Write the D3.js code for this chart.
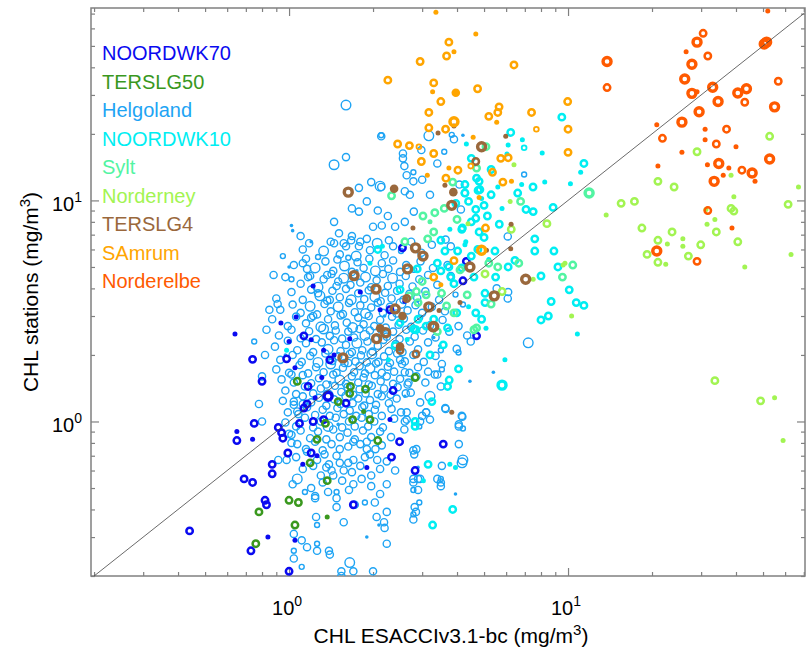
<!DOCTYPE html>
<html lang="en">
<head>
<meta charset="UTF-8">
<title>CHL stations vs ESACCIv3.1-bc</title>
<script src="https://cdn.jsdelivr.net/npm/d3@7"></script>
<style>
  body { margin: 0; background: #fff; }
  text { font-family: "Liberation Sans", Arial, Helvetica, sans-serif; }
</style>
</head>
<body>
<script>
// stations, in legend order, and their colours
var stations = ['NOORDWK70', 'TERSLG50', 'Helgoland', 'NOORDWK10', 'Sylt', 'Norderney', 'TERSLG4', 'SAmrum', 'Norderelbe'];
var colors = ['#0a0af0', '#3a981e', '#1ea4f4', '#00eef2', '#52f4a2', '#a2f452', '#9a683c', '#ffa500', '#ff5a00'];

// each point: [CHL ESACCI, CHL station, sample class]
var noordwk70 = [
[0.64,2.49,0],[0.935,2.79,0],[0.74,1.91,2],[0.8,1.52,2],[1.0,2.3,0],[1.13,2.44,2],[1.2,2.34,0],[0.98,1.92,2],[1.33,2.1,0],[1.38,1.3,3],
[1.33,1.02,2],[1.13,1.15,2],[1.22,1.0,2],[1.09,0.98,2],[0.75,0.98,2],[0.915,0.94,2],[0.94,0.89,2],[0.95,0.84,2],[0.65,0.9,0],[0.65,0.82,2],
[0.74,0.83,0],[0.99,0.72,2],[1.2,0.72,2],[1.26,0.7,0],[1.12,0.64,0],[0.87,0.64,2],[0.87,0.58,2],[0.69,0.55,2],[0.74,0.53,2],[0.82,0.44,2],
[0.83,0.42,2],[0.44,0.32,2],[0.84,0.3,0],[0.73,0.26,2],[1.0,0.21,2],[1.05,0.29,0],[1.7,0.42,2],[2.33,0.69,2],[2.49,0.81,2],[2.83,0.6,2],
[3.57,0.79,2],[2.3,1.02,0],[2.36,1.38,2],[1.17,1.44,2],[1.31,1.58,0],[1.4,1.9,2],[1.05,1.75,0],[1.24,1.28,0],[1.16,1.2,2],[4.7,2.44,2],
[2.55,6.1,2],[4.32,5.3,2],[4.2,4.33,2],[1.22,4.1,0],[2.3,3.2,2],[1.8,3.85,0],[1.06,2.97,0],[1.65,2.37,0],[2.12,3.2,0],[1.6,1.21,2],
[1.9,0.62,0],[2.6,3.5,0],[1.45,2.0,0]
];
var terslg50 = [
[1.07,1.52,2],[1.5,1.23,2],[1.65,1.34,2],[1.66,1.44,2],[1.85,1.11,0],[1.95,1.02,2],[1.69,1.02,2],[1.35,0.98,2],[1.26,0.83,2],[1.19,0.65,2],
[1.37,0.54,2],[1.0,0.44,2],[1.08,0.43,2],[0.78,0.39,2],[1.05,0.34,2],[1.37,0.37,0],[0.76,0.28,2],[2.08,0.82,2],[2.83,1.58,2],[1.88,1.4,2]
];
var helgoland = [
// upper fringe
[1.6,27,3],[2.14,19.7,1],[1.45,14.5,3],[1.6,15.7,2],[1.97,12.1,2],[2.14,11.5,2],[1.78,11.4,2],[1.9,9.9,2],[1.68,9.2,2],[1.78,8.9,2],
[2.08,9.0,2],[1.02,7.7,0],[1.1,6.9,2],[1.12,6.0,2],[1.45,8.0,2],[1.51,7.1,2],[1.45,6.4,2],[1.57,6.4,2],[1.68,6.9,2],[1.78,6.2,2],
[1.9,6.7,2],[2.0,7.6,2],[2.15,7.7,2],[2.26,8.5,2],[2.4,7.6,2],[2.6,8.0,2],[2.8,8.9,2],[1.0,5.0,0],[1.12,5.2,2],[1.16,4.9,2],
[1.17,4.5,2],[1.02,4.4,1],[0.91,3.4,2],[1.27,3.8,2],[1.37,4.6,2],[1.5,4.3,2],[1.4,3.55,2],[1.2,2.95,2],
[2.14,19.5,2],[3.17,19.6,3],[3.83,19.8,1],[3.9,18.9,2],[4.2,19.7,0],[2.56,16.3,2],[2.56,15.5,2],[2.98,16.9,2],[3.6,16.6,1],[3.4,14.7,2],
[2.59,14.3,2],[2.79,13.4,1],[2.64,13,2],[2.79,12.2,2],[3.0,12.4,2],[3.2,10.6,2],[4.08,11.8,2],[4.27,10.8,2],[2.12,11.6,3],[4.13,9.1,2],
[2.71,10.6,2],[2.6,11.0,2],[6.96,13.1,1],[6.08,6.87,2],[3.64,6.65,2],[3.8,6.2,2],[3.8,4.55,2],[3.7,5.1,2],[6.08,3.6,2],[5.55,4.0,2],[6.1,3.85,2],
// right fringe
[7.2,2.27,3],[5.4,1.67,0],[4.45,1.52,0],[3.99,2.13,2],[4.05,2.05,1],[3.47,2.2,0],[3.53,1.82,2],[3.53,1.72,1],[3.33,1.63,2],[3.5,1.44,2],
[3.64,1.14,2],[4.16,1.06,2],[4.06,0.95,2],[4.2,0.93,1],[4.06,0.79,2],[4.17,0.65,3],[3.53,0.63,2],[3.5,0.55,1],[3.5,0.51,2],[2.81,0.71,2],
[2.86,0.75,2],[2.79,0.53,2],[2.95,0.55,2],[2.79,0.49,1],[2.93,0.43,1],[2.79,0.38,1],[2.79,0.36,2],[4.48,2.3,2],[2.5,1.9,2],[2.6,1.67,2],
[2.68,1.5,2],[2.95,1.22,2],[2.73,1.35,2],[3.2,1.3,3],[3.1,1.1,2],[3.2,1.02,2],[2.64,1.02,2],
// lower fringe
[1.02,1.63,2],[1.04,1.23,2],[1.12,1.2,2],[1.07,1.11,2],[1.0,0.88,2],[1.02,0.8,2],[0.98,0.67,2],[0.915,0.67,2],[1.07,0.55,3],[1.03,0.52,2],
[1.14,0.48,1],[1.24,0.46,2],[1.25,0.37,2],[1.26,0.34,1],[1.48,0.41,2],[1.57,0.35,2],[1.04,0.31,2],[1.11,0.29,2],[1.16,0.27,2],[1.26,0.26,2],
[1.26,0.28,1],[1.39,0.26,2],[1.4,0.25,2],[1.04,0.26,1],[1.04,0.24,2],[1.11,0.22,1],[1.54,0.21,2],[1.54,0.2,2],[1.65,0.23,3],[1.7,0.21,2],
[2.0,0.21,2],[2.24,0.28,2],[2.19,0.35,2],[2.2,0.33,2],[2.06,0.37,2],[2.24,0.39,2],[2.03,0.43,2],[1.87,0.43,1],[1.72,0.42,2],[1.48,0.45,2],
[1.7,0.52,2],[1.82,0.55,2],[1.55,0.54,2],[1.48,0.48,1],[1.38,0.48,2],[1.24,0.45,2],
[1.7,0.81,2],[1.8,0.79,2],[1.9,0.75,2],[1.63,0.77,2],[1.7,0.67,2],[1.63,0.65,2],[1.52,0.65,2],[1.48,0.7,2],[1.39,0.64,2],[1.36,0.62,2],
[1.42,0.6,2],[1.57,0.6,2],[1.44,0.57,2],[1.95,0.71,2],[2.15,0.78,2],[2.24,0.66,2],[2.24,0.52,2],[2.4,0.6,2],[2.59,0.92,2],[2.6,1.0,2],
[2.64,1.1,2],[2.79,0.74,2],[2.79,0.55,2],[2.9,0.55,2],[2.9,0.49,2],[2.82,0.41,2],[2.85,0.39,2],[3.5,0.53,2],[3.4,0.55,2],[4.2,0.67,3],
[4.18,1.05,2],[4.06,0.97,2],[3.4,1.63,2],[3.63,1.15,2],[3.0,1.06,2],[2.95,1.0,2],[3.1,1.1,2],[2.93,0.95,1],
// core
[1.18,6.4,2],[1.33,5.9,3],[1.41,6.5,2],[1.52,5.7,2],[1.6,6.2,2],[1.74,5.6,3],[1.8,6.5,2],[1.95,5.95,2],[2.07,6.4,3],[2.2,5.65,2],
[2.36,6.2,2],[2.52,5.9,1],[2.74,6.5,2],[2.98,5.8,2],[3.25,6.3,2],[1.27,5.55,1],[2.28,6.6,2],[1.67,6.6,2],
[1.04,5.1,2],[1.15,5.45,2],[1.24,4.95,3],[1.35,5.3,2],[1.44,4.8,2],[1.49,5.4,2],[1.58,5.05,3],[1.68,4.75,2],[1.76,5.25,2],[1.85,4.95,2],
[1.94,5.45,2],[2.04,4.8,3],[2.15,5.2,2],[2.27,4.9,2],[2.36,5.35,2],[2.5,4.75,2],[2.63,5.1,2],[2.81,4.85,1],[2.96,5.3,2],[3.28,4.95,2],[1.63,5.5,1],
[0.97,4.5,2],[1.1,4.2,2],[1.19,4.55,2],[1.27,4.05,3],[1.33,4.4,2],[1.42,4.65,2],[1.48,4.1,2],[1.57,4.45,3],[1.66,4.15,2],[1.71,4.62,2],
[1.8,4.25,2],[1.88,4.5,3],[1.97,4.05,2],[2.06,4.35,2],[2.17,4.65,2],[2.26,4.1,2],[2.35,4.45,3],[2.49,4.2,2],[2.62,4.55,2],[2.77,4.08,2],
[2.93,4.4,2],[3.15,4.6,2],[3.4,4.15,2],[3.8,4.5,1],
[0.9,3.6,2],[1.02,3.85,2],[1.12,3.55,2],[1.2,3.95,2],[1.29,3.7,3],[1.37,3.52,2],[1.43,3.9,2],[1.52,3.65,2],[1.6,3.98,2],[1.67,3.55,3],
[1.77,3.8,2],[1.86,3.58,2],[1.93,3.92,2],[2.03,3.66,3],[2.13,3.5,2],[2.21,3.82,2],[2.33,3.6,2],[2.44,3.9,2],[2.57,3.55,2],[2.7,3.78,2],
[2.88,3.62,2],[3.08,3.88,2],[3.45,3.55,2],[3.95,3.75,1],
[0.93,3.2,2],[1.03,3.38,2],[1.1,3.1,2],[1.19,3.32,3],[1.26,3.05,2],[1.34,3.4,2],[1.41,3.15,2],[1.5,3.3,3],[1.56,3.06,2],[1.64,3.44,2],
[1.72,3.12,2],[1.8,3.35,2],[1.88,3.08,3],[1.97,3.28,2],[2.08,3.45,2],[2.17,3.1,2],[2.3,3.3,2],[2.43,3.08,2],[2.52,3.42,3],[2.66,3.18,2],
[2.84,3.36,2],[3.0,3.1,2],[3.25,3.3,2],[3.62,3.15,2],[4.2,3.38,1],
[0.87,2.9,2],[0.99,2.7,2],[1.06,2.98,2],[1.15,2.78,2],[1.22,3.0,2],[1.3,2.68,3],[1.38,2.9,2],[1.46,2.72,2],[1.53,3.02,2],[1.61,2.8,2],
[1.69,2.66,3],[1.77,2.95,2],[1.85,2.75,2],[1.93,3.0,2],[2.02,2.7,2],[2.12,2.88,2],[2.22,2.66,2],[2.34,2.98,2],[2.47,2.74,2],[2.58,2.92,2],
[2.74,2.68,2],[2.95,2.95,1],[3.2,2.72,2],[3.55,2.88,2],[4.05,2.7,2],
[0.92,2.45,2],[1.02,2.6,2],[1.1,2.38,2],[1.18,2.56,2],[1.25,2.36,2],[1.33,2.62,3],[1.4,2.44,2],[1.47,2.58,2],[1.55,2.37,2],[1.63,2.55,2],
[1.71,2.4,2],[1.79,2.62,2],[1.87,2.45,3],[1.95,2.58,2],[2.04,2.36,2],[2.14,2.6,2],[2.24,2.42,2],[2.36,2.55,2],[2.49,2.36,2],[2.63,2.6,2],
[2.82,2.42,2],[3.02,2.58,2],[3.35,2.4,2],[3.75,2.55,2],[4.35,2.45,2],
[0.89,2.18,2],[0.99,2.32,2],[1.07,2.1,2],[1.15,2.26,2],[1.22,2.06,2],[1.31,2.28,2],[1.38,2.12,3],[1.45,2.33,2],[1.53,2.08,2],[1.6,2.22,2],
[1.68,2.06,2],[1.75,2.26,3],[1.83,2.1,2],[1.91,2.3,2],[1.99,2.07,2],[2.08,2.2,2],[2.18,2.34,2],[2.28,2.08,2],[2.41,2.24,2],[2.55,2.06,2],
[2.71,2.3,2],[2.9,2.12,2],[3.15,2.28,2],[3.5,2.1,1],
[0.93,1.9,2],[1.03,2.0,2],[1.11,1.86,2],[1.19,1.98,2],[1.27,1.85,3],[1.35,2.03,2],[1.43,1.88,2],[1.5,1.97,2],[1.58,1.84,2],[1.65,2.02,2],
[1.73,1.87,2],[1.81,1.99,2],[1.9,1.85,2],[1.98,2.02,3],[2.09,1.86,2],[2.19,1.97,2],[2.3,1.84,2],[2.44,2.03,2],[2.6,1.87,2],[2.79,2.0,2],
[3.04,1.86,2],[3.35,1.98,2],
[0.9,1.72,2],[1.0,1.66,2],[1.09,1.8,2],[1.17,1.65,2],[1.25,1.76,2],[1.33,1.67,2],[1.41,1.82,3],[1.48,1.66,2],[1.56,1.75,2],[1.63,1.84,2],
[1.71,1.67,2],[1.79,1.78,2],[1.87,1.65,2],[1.95,1.74,3],[2.05,1.83,2],[2.15,1.66,2],[2.26,1.77,2],[2.38,1.68,2],[2.54,1.82,2],[2.7,1.66,2],
[2.9,1.76,2],[3.15,1.68,2],
[0.94,1.55,2],[1.04,1.5,2],[1.12,1.62,2],[1.2,1.49,2],[1.28,1.57,2],[1.36,1.47,2],[1.44,1.63,2],[1.52,1.54,3],[1.6,1.48,2],[1.68,1.6,2],
[1.77,1.5,2],[1.85,1.58,2],[1.93,1.47,2],[2.03,1.62,2],[2.13,1.52,2],[2.24,1.6,2],[2.36,1.48,2],[2.5,1.56,2],[2.66,1.47,2],[2.86,1.6,2],[3.08,1.5,2],
[0.97,1.38,2],[1.06,1.33,2],[1.14,1.44,2],[1.22,1.34,2],[1.3,1.41,2],[1.38,1.32,3],[1.46,1.45,2],[1.54,1.36,2],[1.62,1.43,2],[1.7,1.32,2],
[1.79,1.4,2],[1.88,1.34,2],[1.98,1.45,2],[2.08,1.33,2],[2.19,1.41,2],[2.31,1.32,2],[2.45,1.43,2],[2.62,1.34,2],
[0.95,1.24,2],[1.04,1.19,2],[1.12,1.3,2],[1.2,1.22,2],[1.28,1.28,2],[1.36,1.18,2],[1.45,1.26,2],[1.53,1.2,2],[1.61,1.3,3],[1.69,1.21,2],
[1.77,1.27,2],[1.86,1.18,2],[1.95,1.25,2],[2.05,1.19,2],[2.15,1.3,2],[2.28,1.21,2],[2.43,1.27,2],
[0.99,1.1,2],[1.08,1.08,2],[1.16,1.16,2],[1.24,1.07,2],[1.32,1.13,2],[1.4,1.06,2],[1.49,1.15,2],[1.57,1.08,2],[1.65,1.12,2],[1.74,1.06,2],
[1.83,1.16,2],[1.93,1.08,2],[2.03,1.13,2],[2.15,1.06,2],[2.33,1.14,2],[2.52,1.1,2],
[0.97,0.99,2],[1.06,0.95,2],[1.14,1.04,2],[1.22,0.94,2],[1.3,1.0,2],[1.38,0.95,3],[1.47,1.04,2],[1.55,0.94,2],[1.64,1.0,2],[1.72,0.95,2],
[1.82,1.04,2],[1.92,0.95,2],[2.02,1.0,2],[2.17,0.94,2],[2.38,1.03,2],
[1.02,0.87,2],[1.1,0.91,2],[1.19,0.84,2],[1.27,0.9,2],[1.36,0.83,2],[1.44,0.92,2],[1.52,0.85,2],[1.62,0.89,2],[1.72,0.83,2],[1.84,0.91,2],
[1.97,0.85,2],[2.12,0.9,2],[2.32,0.85,2],
[1.07,0.79,2],[1.15,0.75,2],[1.24,0.81,2],[1.32,0.74,2],[1.42,0.79,2],[1.52,0.75,2],[1.9,0.81,2],[2.04,0.75,2],
[1.06,0.69,2],[1.16,0.73,2],[1.26,0.67,2],[1.34,0.71,2],[1.87,0.69,2],[2.07,0.67,2],
[1.12,0.61,2],[1.22,0.63,2],[1.3,0.57,2],[1.68,0.59,2],[1.8,0.63,2],[1.97,0.57,2],[2.12,0.61,2],
[1.2,0.5,2],[1.32,0.53,2],[1.64,0.49,2],[1.97,0.51,2],[2.12,0.47,2],
// left fringe and small dots
[0.82,2.0,2],[0.8,1.6,2],[0.78,1.2,2],[0.85,3.2,2],[0.83,2.6,2],[0.88,4.6,2],[0.95,5.6,1],[0.75,2.3,1],[0.8,1.0,2],
[1.03,7.3,0],[1.2,6.5,0],[0.97,2.0,0],[1.5,0.97,0],[2.6,1.3,0],[3.3,2.4,0],[2.9,0.62,0],[1.9,0.3,0],[1.4,1.5,0],[2.2,3.0,0],
[1.75,4.8,0],[3.95,0.47,0],[2.1,0.34,0]
];
var noordwk10 = [
[9.5,23.8,2],[6.23,20.3,2],[4.32,18,0],[6.1,17.8,0],[6.86,18.8,0],[6.96,17.3,1],[8.08,16.4,0],[11.4,14.7,2],[11.1,13.4,0],[10.2,11.9,0],
[8.25,12.1,0],[7.49,11.5,2],[6.82,11.8,0],[6.04,16.2,0],[6.6,10.8,2],[4.8,12.2,2],[4.76,11.1,2],[4.9,10.2,0],[4.27,10.8,2],[5.0,9.5,2],
[5.14,8.5,2],[4.67,9.1,2],[4.67,8.3,2],[4.16,7.4,2],[4.8,7.2,2],[5.67,7.8,2],[7.07,9.1,2],[7.5,8.9,2],[8.84,9.3,2],[3.77,7.4,0],
[7.6,6.7,2],[7.6,5.9,2],[8.9,5.9,2],[9.2,5.0,2],[10.1,3.94,2],[10.7,3.45,2],[11.4,3.35,2],[8.7,3.49,2],[8.0,4.55,2],[6.45,5.35,2],
[6.1,5.0,2],[5.04,3.8,2],[4.67,3.1,2],[8.5,3.0,2],[5.47,5.9,2],[4.02,5.9,2],[3.62,5.9,2],[3.74,5.0,2],[3.4,5.2,2],[4.16,4.95,2],
[3.8,4.5,2],[4.75,6.0,2],[4.3,6.5,0],[2.08,6.0,2],[8.0,2.88,2],[10.8,2.49,0],[5.94,1.9,0],[5.8,1.46,3],[3.57,2.22,2],[3.75,1.54,2],
[3.7,1.44,2],[4.05,1.73,2],[3.2,2.0,2],[3.1,2.7,2],[2.8,2.62,2],[2.5,2.8,2],[2.9,2.9,2],[5.08,2.64,0],[3.25,1.23,2],[2.83,1.0,2],
[2.83,0.95,2],[3.15,0.64,2],[3.77,0.64,0],[3.95,0.62,0],[3.03,0.54,0],[3.86,0.4,2],[3.27,0.34,2],[0.98,2.1,0],[2.27,1.9,0],[2.4,2.2,2],
[4.27,11.8,2],[3.96,9.7,2],[4.83,11.2,2],[4.18,7.5,2],[4.27,6.3,0],[5.04,3.45,2],[3.99,3.1,2],[4.7,12.6,2],
[2.16,6.2,0],[1.95,5.2,0],[2.5,3.95,2],[2.88,4.9,2],[2.85,2.6,2],
[4.5,15.5,2],[5.3,13.8,2],[5.6,11.5,0],[4.4,9.9,2],[5.3,10.6,2],[5.8,9.2,0],[4.5,8.0,2],[5.0,6.8,2],[4.5,5.6,2],[5.2,5.4,0],
[3.5,6.6,2],[3.9,4.2,2],[4.6,4.5,2],[5.5,4.5,2],[4.4,3.3,0],[3.5,4.8,2],[4.9,2.9,2],[3.3,2.9,2],[3.7,2.65,2],[2.65,2.35,0]
];
var sylt = [
[5.08,17.5,2],[2.33,10.5,2],[3.02,8.5,2],[3.33,8.8,2],[3.2,8.0,0],[3.14,6.7,2],[4.7,14,2],[3.86,12.1,2],[6.76,9.9,2],[11.9,10.8,3],
[4.1,4.85,2],[5.6,5.0,2],[9.55,4.5,2],[10.4,5.1,2],[6.66,5.2,2],[5.2,5.2,2],[3.52,3.8,2],[2.9,3.45,2],[3.1,3.74,2],[4.35,3.74,2],
[3.67,3.33,2],[3.9,3.1,2],[2.86,3.87,2],[4.6,2.6,2],[4.7,2.65,2],
[3.6,9.2,2],[4.0,8.2,2],[3.3,7.2,2],[2.6,6.5,2],[3.0,4.3,2],[5.3,3.4,2],[3.4,2.55,2],[2.7,3.7,2]
];
var norderney = [
[52.8,19.5,2],[67,11.5,0],[29,16.6,2],[38.4,13,0],[21,12.2,2],[24,11.5,2],[15.5,9.7,2],[17.3,9.9,2],[13.7,8.6,0],[31.2,9.1,0],
[39.3,10.4,0],[38.4,9.2,2],[39.3,8.95,2],[61.5,9.6,2],[33.6,8.2,0],[31.5,7.8,0],[34,7.2,2],[18.4,7.5,2],[23.6,7.2,2],[21,6.6,2],
[22.7,6.35,0],[25.8,6.7,0],[29.9,6.3,2],[25.8,6.2,0],[40.6,6.5,2],[63,5.7,0],[19.2,5.7,2],[27,5.6,2],[21,5.25,2],[22.4,5.15,0],
[43,5.0,0],[6.4,14.5,0],[6.2,9.9,0],[6.26,7.4,2],[8.4,7.85,2],[9.75,5.2,0],[9.6,5.1,0],[7.5,4.4,0],[10.3,3.0,0],[5.8,3.87,2],
[5.04,4.65,2],[33.6,1.53,2],[49,1.24,2],[55,1.28,0],[59,0.82,0],[4.38,7.85,0]
];
var terslg4 = [
[3.42,20.2,0],[3.9,21.7,0],[5.98,19.5,0],[4.9,17.5,3],[4.67,15,2],[3.62,11.7,0],[3.88,10.9,4],[3.83,9.5,3],[2.38,11.3,4],[2.78,7.5,0],
[6.25,7.8,0],[6.23,6.05,0],[2.84,6.1,3],[3.02,5.6,3],[2.66,4.9,3],[4.45,5.0,3],[5.1,5.95,0],[2.62,3.6,0],[4.1,3.45,0],[5.44,3.7,3],
[7.05,4.4,3],[3.17,3.3,3],[2.4,3.23,3],[2.55,3.0,4],[3.45,3.18,0],[1.63,10.9,3],[1.71,4.57,3],[2.05,3.97,3],[2.64,3.6,2],[3.3,2.69,3],
[2.12,2.64,4],[2.06,2.37,3],[2.22,2.52,3],[2.5,2.18,4],[1.56,1.94,3],[2.85,2.02,2],[3.83,1.1,0],[3.28,2.68,3],[2.5,2.1,2]
];
var samrum = [
[3.36,71,0],[4.67,56.6,0],[3.74,52,2],[3.67,45,2],[3.9,47,0],[2.95,42.5,2],[6.4,41,2],[2.26,35,2],[3.3,34,2],[3.27,31,0],
[3.96,30.7,4],[4.74,32,2],[3.5,28,2],[3.17,25,2],[5.66,26.5,2],[5.2,24,2],[5.6,25,2],[5.55,22.6,0],[7.4,25,2],[9.97,28,2],
[3.9,22.7,3],[3.17,21.3,2],[3.64,21,2],[4.57,19.3,0],[7.7,21,1],[10,21,2],[10,16.5,2],[2.45,18,2],[2.7,17.7,2],[2.92,17.5,1],
[3.3,16.3,2],[2.98,15,2],[3.74,14,0],[4.03,13.7,2],[4.48,14.3,1],[5.74,15.5,2],[6.1,15.6,2],[5.36,13.4,2],[3.13,13,0],[3.65,12.6,2],
[5.84,12.1,2],[6.27,12.2,0],[4.8,10.3,0],[5.06,7.5,2],[4.9,5.95,3],[3.9,5.34,2],[3.3,4.5,2],[3.5,4.15,0]
];
var norderelbe = [
[52,72,0],[30.5,57,2],[29,52,3],[26.5,47,0],[31.7,45,2],[50.5,51,3],[51.5,52,3],[27.8,41.3,3],[26.2,35.4,3],[13.8,42.5,3],
[13.8,32.4,2],[27.8,30.5,3],[29,31,0],[33,32.5,3],[40.6,30.6,3],[43.6,32,3],[34.5,28,3],[43,27.8,2],[56.7,34.6,2],[55,26.5,3],
[29.5,25.2,3],[25.6,22.6,3],[20.8,22,0],[31,21,0],[37,21,2],[21.8,19.1,2],[31,18.8,0],[34,18,2],[40,17.5,0],[25.6,16.5,0],
[21,14.3,0],[31.6,14.5,0],[34.7,14.7,3],[37.7,14,0],[36,13,0],[42,13.7,2],[45.7,13.3,3],[33.4,12.2,3],[46.8,12.2,0],[52.8,15.4,3],
[31.7,9.0,2],[38.7,7.5,0],[20.8,5.9,3],[29,5.3,2]
];
var series = [noordwk70, terslg50, helgoland, noordwk10, sylt, norderney, terslg4, samrum, norderelbe];
var drawOrder = [2, 0, 1, 3, 4, 5, 6, 7, 8];

var majorTicks = [1, 10];
var minorTicks = [0.2,0.3,0.4,0.5,0.6,0.7,0.8,0.9,2,3,4,5,6,7,8,9,20,30,40,50,60,70];
var oneToOne = [0.2, 70];

var W = 806, H = 655;
var margin = { left: 91, top: 8, right: 1, bottom: 79 };
var axisColor = '#808080';

var svg = d3.select('body').append('svg').attr('width', W).attr('height', H);

var x = d3.scaleLog().domain([0.195, 70.7]).range([margin.left, W - margin.right]);
var y = d3.scaleLog().domain([0.2, 74.2]).range([H - margin.bottom, margin.top]);

svg.append('clipPath').attr('id', 'plot')
    .append('rect')
    .attr('x', margin.left).attr('y', margin.top)
    .attr('width', W - margin.right - margin.left).attr('height', H - margin.bottom - margin.top);

// ticks, pointing inward on all four sides
function ticks(axis, t, vals, size) {
    var g = svg.append('g').attr('transform', t)
        .call(axis.tickValues(vals).tickSize(-size).tickFormat(''));
    g.select('.domain').remove();
    g.selectAll('line').attr('stroke', axisColor).attr('stroke-width', 1.2);
}
var bottom = H - margin.bottom, right = W - margin.right;
[[minorTicks, 4], [majorTicks, 8]].forEach(function (p) {
    ticks(d3.axisBottom(x), 'translate(0,' + bottom + ')', p[0], p[1]);
    ticks(d3.axisTop(x), 'translate(0,' + margin.top + ')', p[0], p[1]);
    ticks(d3.axisLeft(y), 'translate(' + margin.left + ',0)', p[0], p[1]);
    ticks(d3.axisRight(y), 'translate(' + right + ',0)', p[0], p[1]);
});

// frame
svg.append('rect')
    .attr('x', margin.left).attr('y', margin.top)
    .attr('width', right - margin.left).attr('height', bottom - margin.top)
    .attr('fill', 'none').attr('stroke', axisColor).attr('stroke-width', 1.5);

// tick labels 10^n
svg.selectAll('.xlab').data(majorTicks).enter().append('text')
    .attr('x', function (d) { return x(d) - 2; })
    .attr('y', bottom + 39)
    .attr('text-anchor', 'middle')
    .attr('font-size', 20).attr('fill', '#000')
    .each(function (d) {
        var t = d3.select(this);
        t.append('tspan').text('10');
        t.append('tspan').attr('dy', -9).attr('font-size', 14).text(Math.round(Math.log10(d)));
    });

svg.selectAll('.ylab').data(majorTicks).enter().append('text')
    .attr('x', margin.left - 9)
    .attr('y', function (d) { return y(d) + 11; })
    .attr('text-anchor', 'end')
    .attr('font-size', 20).attr('fill', '#000')
    .each(function (d) {
        var t = d3.select(this);
        t.append('tspan').text('10');
        t.append('tspan').attr('dy', -9).attr('font-size', 14).text(Math.round(Math.log10(d)));
    });

// axis titles
var xt = svg.append('text')
    .attr('x', (margin.left + right) / 2 + 3).attr('y', 643)
    .attr('text-anchor', 'middle').attr('font-size', 21).attr('fill', '#000');
xt.append('tspan').text('CHL ESACCIv3.1-bc (mg/m');
xt.append('tspan').attr('dy', -8).attr('font-size', 15).text('3');
xt.append('tspan').attr('dy', 8).text(')');

var yt = svg.append('text')
    .attr('transform', 'translate(38,' + ((margin.top + bottom) / 2) + ') rotate(-90)')
    .attr('text-anchor', 'middle').attr('font-size', 21).attr('fill', '#000');
yt.append('tspan').text('CHL stations  (mg/m');
yt.append('tspan').attr('dy', -8).attr('font-size', 15).text('3');
yt.append('tspan').attr('dy', 8).text(')');

// markers
var thinR = [1.8, 2.5, 3.6, 4.8, 4];
var thickR = [2.5, 2.4, 3.2, 4.0, 4.3];
var thickW = [0, 1.8, 2.5, 3.4, 0];

var plot = svg.append('g').attr('clip-path', 'url(#plot)');
drawOrder.forEach(function (i) {
    var thin = stations[i] === 'Helgoland';
    plot.append('g').selectAll('circle').data(series[i]).join('circle')
        .attr('cx', function (d) { return x(d[0]); })
        .attr('cy', function (d) { return y(d[1]); })
        .attr('r', function (d) { return thin ? thinR[d[2]] : thickR[d[2]]; })
        .attr('fill', function (d) { return (d[2] === 0 || d[2] === 4) ? colors[i] : 'none'; })
        .attr('stroke', function (d) { return (d[2] === 0 || d[2] === 4) ? 'none' : colors[i]; })
        .attr('stroke-width', function (d) { return thin ? 1.4 : thickW[d[2]]; });
});

// 1:1 line
plot.append('line')
    .attr('x1', x(oneToOne[0])).attr('y1', y(oneToOne[0]))
    .attr('x2', x(oneToOne[1])).attr('y2', y(oneToOne[1]))
    .attr('stroke', '#444').attr('stroke-width', 0.8);

// legend
svg.selectAll('.leg').data(stations).enter().append('text')
    .attr('x', 102)
    .attr('y', function (d, i) { return 60 + i * 28.5; })
    .attr('font-size', 20)
    .attr('fill', function (d, i) { return colors[i]; })
    .text(function (d) { return d; });
</script>
</body>
</html>
